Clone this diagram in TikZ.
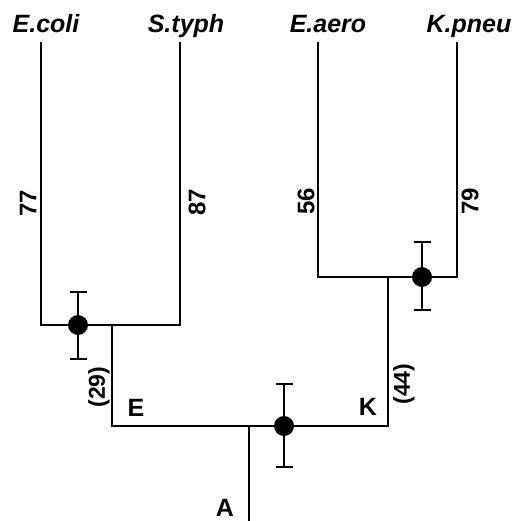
\documentclass[tikz,border=0pt]{standalone}
\usepackage{fontspec}
\setmainfont{Liberation Sans}
\usepackage{tikz}
\usetikzlibrary{arrows.meta,positioning}
\tikzset{
  branch/.style={line width=2.2pt,line join=miter},
  leaf/.style={font=\fontsize{25}{30}\selectfont\bfseries\itshape,inner sep=0pt,anchor=base},
  blen/.style={font=\fontsize{24}{28}\selectfont\bfseries,inner sep=0pt,rotate=90},
  anc/.style={font=\fontsize{25}{30}\selectfont\bfseries,inner sep=0pt},
  dot/.style={circle,fill=black,minimum size=20pt,inner sep=0pt},
  ebar/.style={line width=2pt,{Bar[width=17pt,line width=2pt]}-{Bar[width=17pt,line width=2pt]}},
}

\begin{document}
\begin{tikzpicture}[x=1pt,y=-1pt]
  \useasboundingbox (0,0) rectangle (517,521);
  % leaves
  \node[leaf] (ecoli) at (46,33)  {E.coli};
  \node[leaf] (styph) at (186,33) {S.typh};
  \node[leaf] (eaero) at (328,33) {E.aero};
  \node[leaf] (kpneu) at (469,33) {K.pneu};
  \coordinate (ec) at (41,42);
  \coordinate (st) at (180,42);
  \coordinate (ea) at (318,42);
  \coordinate (kp) at (457,42);
  % inner nodes
  \coordinate (E) at (112,325);
  \coordinate (K) at (388,277);
  \coordinate (A) at (249,426);
  \coordinate (root) at (249,522);
  \draw[branch] (ec) |- (E) -| (st);
  \draw[branch] (ea) |- (K) -| (kp);
  \draw[branch] (E) |- (A) -| (K);
  \draw[branch] (A) -- (root);
  % branch lengths
  \node[blen] (l77) at (28,203) {77};
  \node[blen] (l87) at (197,202) {87};
  \node[blen] (l56) at (306,201) {56};
  \node[blen] (l79) at (470,201) {79};
  \node[blen,font=\fontsize{23}{28}\selectfont\bfseries] (l29) at (99,387) {(29)};
  \node[blen,font=\fontsize{23}{28}\selectfont\bfseries] (l44) at (404,384) {(44)};
  \node[anc] (nE) at (136,408) {E};
  \node[anc] (nK) at (368,407) {K};
  \node[anc] (nA) at (225,508) {A};
  % divergence points with error bars
  \coordinate (d1t) at (78,291);  \coordinate (d1b) at (78,360);
  \coordinate (d2t) at (422,241); \coordinate (d2b) at (422,311);
  \coordinate (d3t) at (284,383); \coordinate (d3b) at (284,468);
  \draw[ebar] (d1t) -- (d1b);
  \draw[ebar] (d2t) -- (d2b);
  \draw[ebar] (d3t) -- (d3b);
  \node[dot] (ed) at (78,325) {};
  \node[dot] (kd) at (422,277) {};
  \node[dot] (ad) at (284,426) {};
\end{tikzpicture}
\end{document}
